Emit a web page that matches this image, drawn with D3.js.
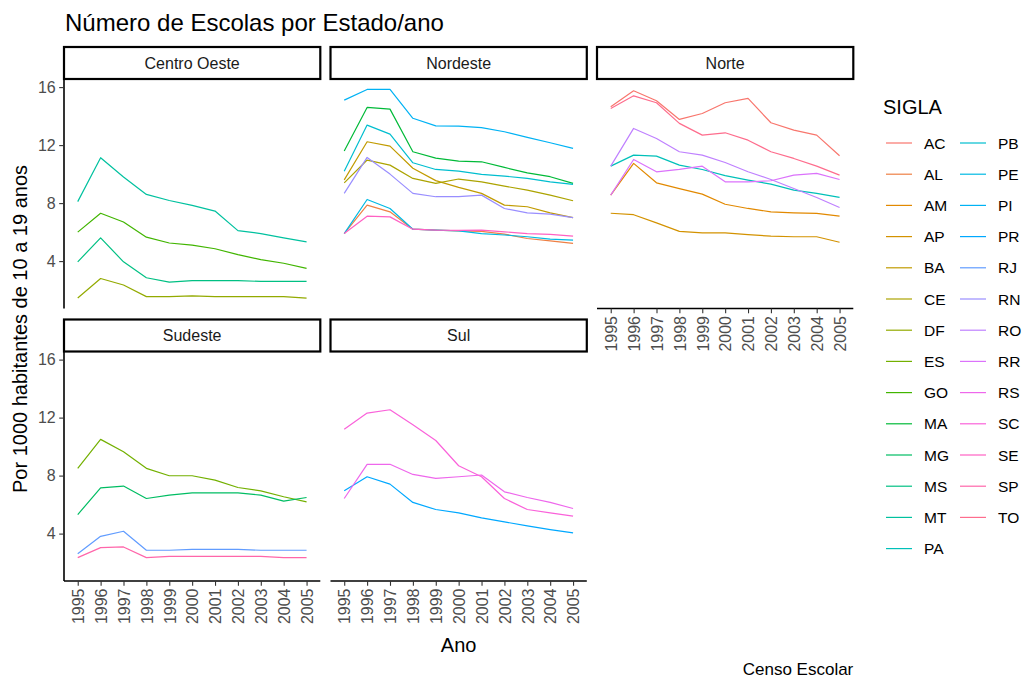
<!DOCTYPE html>
<html>
<head>
<meta charset="utf-8">
<script src="https://cdn.jsdelivr.net/npm/d3@7"></script>
<style>
  html, body { margin: 0; padding: 0; background: #ffffff; }
  svg { display: block; font-family: "Liberation Sans", Arial, sans-serif; }
</style>
</head>
<body>
<svg id="chart" width="1027" height="680"></svg>
<script>
// ---- data -------------------------------------------------------------
const years = ["1995","1996","1997","1998","1999","2000","2001","2002","2003","2004","2005"];
const regions = ["Centro Oeste", "Nordeste", "Norte", "Sudeste", "Sul"];
const siglas = ["AC","AL","AM","AP","BA","CE","DF","ES","GO","MA","MG","MS","MT","PA",
                "PB","PE","PI","PR","RJ","RN","RO","RR","RS","SC","SE","SP","TO"];
const siglaRegion = ["Norte","Nordeste","Norte","Norte","Nordeste","Nordeste","Centro Oeste","Sudeste",
                     "Centro Oeste","Nordeste","Sudeste","Centro Oeste","Centro Oeste","Norte",
                     "Nordeste","Nordeste","Nordeste","Sul","Sudeste","Nordeste","Norte","Norte",
                     "Sul","Sul","Nordeste","Sudeste","Norte"];
const yTicks = [4, 8, 12, 16];

// schools per 1000 inhabitants aged 10-19, 1995..2005
const valAC = [14.64, 15.75, 15.06, 13.77, 14.18, 14.92, 15.22, 13.54, 13.03, 12.69, 11.27];
const valAL = [5.90, 7.86, 7.40, 6.20, 6.14, 6.09, 6.05, 5.86, 5.56, 5.40, 5.22];
const valAM = [8.55, 10.74, 9.40, 9.00, 8.62, 7.92, 7.63, 7.40, 7.33, 7.29, 7.10];
const valAP = [7.30, 7.20, 6.64, 6.05, 5.95, 5.95, 5.82, 5.72, 5.68, 5.68, 5.30];
const valBA = [9.60, 12.23, 11.93, 10.40, 9.55, 9.08, 8.67, 7.86, 7.75, 7.33, 7.00];
const valCE = [9.40, 10.97, 10.62, 9.70, 9.36, 9.66, 9.47, 9.17, 8.90, 8.55, 8.16];
const valDF = [1.45, 2.80, 2.35, 1.55, 1.55, 1.60, 1.55, 1.55, 1.55, 1.55, 1.45];
const valES = [8.50, 10.50, 9.65, 8.50, 7.99, 7.99, 7.69, 7.18, 6.95, 6.54, 6.19];
const valGO = [6.00, 7.30, 6.70, 5.65, 5.25, 5.10, 4.85, 4.45, 4.10, 3.85, 3.50];
const valMA = [11.60, 14.60, 14.48, 11.54, 11.10, 10.90, 10.85, 10.46, 10.09, 9.82, 9.36];
const valMG = [5.31, 7.16, 7.28, 6.42, 6.65, 6.81, 6.81, 6.81, 6.65, 6.24, 6.49];
const valMS = [3.95, 5.60, 3.95, 2.85, 2.55, 2.65, 2.65, 2.65, 2.60, 2.60, 2.60];
const valMT = [8.10, 11.13, 9.80, 8.60, 8.18, 7.84, 7.45, 6.10, 5.90, 5.60, 5.33];
const valPA = [10.55, 11.31, 11.24, 10.62, 10.32, 9.90, 9.59, 9.31, 8.90, 8.67, 8.39];
const valPB = [10.20, 13.38, 12.76, 10.78, 10.32, 10.20, 9.98, 9.86, 9.70, 9.47, 9.29];
const valPE = [5.90, 8.25, 7.63, 6.20, 6.14, 6.09, 5.90, 5.80, 5.68, 5.52, 5.45];
const valPI = [15.10, 15.84, 15.84, 13.85, 13.33, 13.31, 13.20, 12.92, 12.53, 12.16, 11.77];
const valPR = [6.95, 7.92, 7.41, 6.15, 5.66, 5.43, 5.08, 4.81, 4.53, 4.28, 4.05];
const valRJ = [2.61, 3.81, 4.16, 2.85, 2.85, 2.91, 2.91, 2.91, 2.85, 2.85, 2.85];
const valRN = [8.67, 11.15, 10.00, 8.67, 8.44, 8.44, 8.55, 7.63, 7.33, 7.24, 7.00];
const valRO = [10.55, 13.15, 12.46, 11.54, 11.31, 10.80, 10.16, 9.63, 9.01, 8.39, 7.70];
const valRR = [8.55, 11.01, 10.16, 10.32, 10.55, 9.47, 9.47, 9.54, 9.93, 10.05, 9.63];
const valRS = [6.42, 8.78, 8.78, 8.08, 7.81, 7.92, 8.04, 6.88, 6.49, 6.15, 5.73];
const valSC = [11.20, 12.31, 12.54, 11.50, 10.42, 8.68, 7.92, 6.42, 5.66, 5.43, 5.20];
const valSE = [5.90, 7.10, 7.05, 6.20, 6.14, 6.12, 6.14, 6.02, 5.90, 5.84, 5.72];
const valSP = [2.34, 3.03, 3.08, 2.34, 2.43, 2.43, 2.43, 2.43, 2.43, 2.34, 2.34];
const valTO = [14.53, 15.40, 14.92, 13.50, 12.69, 12.85, 12.34, 11.54, 11.08, 10.55, 9.93];

const seriesValues = [valAC, valAL, valAM, valAP, valBA, valCE, valDF, valES, valGO, valMA, valMG,
                      valMS, valMT, valPA, valPB, valPE, valPI, valPR, valRJ, valRN, valRO, valRR,
                      valRS, valSC, valSE, valSP, valTO];

const series = siglas.map((s, i) => ({
  sigla: s,
  region: siglaRegion[i],
  values: years.map((y, j) => ({ year: y, value: seriesValues[i][j] }))
}));

// ---- colours: evenly spaced hues in polar CIE-Luv (c = 100, l = 65) -----
function hclLuv(h, c, l) {
  const Wu = 0.1978398, Wv = 0.4683363;
  const hr = h * Math.PI / 180;
  const U = c * Math.cos(hr), V = c * Math.sin(hr);
  const Y = l > 7.999592 ? Math.pow((l + 16) / 116, 3) : l / 903.3;
  const u = U / (13 * l) + Wu, v = V / (13 * l) + Wv;
  const X = 9 * Y * u / (4 * v);
  const Z = -X / 3 - 5 * Y + 3 * Y / v;
  const g = t => t > 0.00304 ? 1.055 * Math.pow(t, 1 / 2.4) - 0.055 : 12.92 * t;
  const cl = t => Math.max(0, Math.min(1, t));
  const r = cl(g(3.240479 * X - 1.537150 * Y - 0.498535 * Z));
  const gg = cl(g(-0.969256 * X + 1.875992 * Y + 0.041556 * Z));
  const b = cl(g(0.055648 * X - 0.204043 * Y + 1.057311 * Z));
  return d3.rgb(r * 255, gg * 255, b * 255).formatHex();
}
const palette = siglas.map((s, i) => hclLuv((15 + 360 * i / siglas.length) % 360, 100, 65));
const color = d3.scaleOrdinal().domain(siglas).range(palette);

// ---- layout -----------------------------------------------------------
const svg = d3.select("#chart");
const FONT_TICK = 16, FONT_STRIP = 16, FONT_LEGEND = 15.5, FONT_AXTITLE = 20;
const panelLeft = 64, panelW = 256.3, panelGapX = 10.2;
const stripH = 32, panelH = 229.5;
const rowTop = [47, 319.5];              // strip top per row
const ncol = 3;

const allVals = seriesValues.flat();
const [vmin, vmax] = d3.extent(allVals);
const pad = (vmax - vmin) * 0.05;

const x = d3.scalePoint().domain(years).range([0, panelW]).padding(0.6);
const y = d3.scaleLinear().domain([vmin - pad, vmax + pad]).range([panelH, 0]);

const line = d3.line().x(d => x(d.year)).y(d => y(d.value));

regions.forEach((reg, idx) => {
  const col = idx % ncol, row = Math.floor(idx / ncol);
  const px = panelLeft + col * (panelW + panelGapX);
  const sy = rowTop[row];
  const py = sy + stripH;

  // strip
  const strip = svg.append("g").attr("transform", `translate(${px},${sy})`);
  strip.append("rect")
    .attr("x", 0).attr("y", 0).attr("width", panelW).attr("height", stripH)
    .attr("fill", "#ffffff").attr("stroke", "#000000").attr("stroke-width", 2.2);
  strip.append("text")
    .attr("x", panelW / 2).attr("y", stripH / 2).attr("dy", "0.36em")
    .attr("text-anchor", "middle").attr("font-size", FONT_STRIP).attr("fill", "#1a1a1a")
    .text(reg);

  const g = svg.append("g").attr("transform", `translate(${px},${py})`);

  // lines
  g.selectAll("path.serie")
    .data(series.filter(s => s.region === reg))
    .join("path")
    .attr("class", "serie")
    .attr("fill", "none")
    .attr("stroke", d => color(d.sigla))
    .attr("stroke-width", 1.2)
    .attr("stroke-linejoin", "round")
    .attr("d", d => line(d.values));

  // y axis on the first column
  if (col === 0) {
    const ya = g.append("g")
      .call(d3.axisLeft(y).tickValues(yTicks).tickSize(4.8).tickPadding(3.5).tickFormat(d3.format("d")));
    ya.select(".domain").attr("stroke", "#000").attr("stroke-width", 1.6)
      .attr("d", `M0,${panelH}V0`);
    ya.selectAll(".tick line").attr("stroke", "#333333").attr("stroke-width", 1.1);
    ya.selectAll(".tick text").attr("font-size", FONT_TICK).attr("fill", "#4d4d4d")
      .attr("font-family", "Liberation Sans, Arial, sans-serif");
  }

  // x axis at the bottom of each column
  const isBottom = (idx + ncol >= regions.length);
  if (isBottom) {
    const xa = g.append("g").attr("transform", `translate(0,${panelH})`)
      .call(d3.axisBottom(x).tickSize(4.8).tickPadding(0));
    xa.select(".domain").attr("stroke", "#000").attr("stroke-width", 1.6)
      .attr("d", `M0,0H${panelW}`);
    xa.selectAll(".tick line").attr("stroke", "#333333").attr("stroke-width", 1.1);
    xa.selectAll(".tick text")
      .attr("font-size", FONT_TICK).attr("fill", "#4d4d4d")
      .attr("font-family", "Liberation Sans, Arial, sans-serif")
      .attr("text-anchor", "end")
      .attr("transform", "translate(0,7.5) rotate(-90)")
      .attr("x", 0).attr("y", 0).attr("dy", "0.36em");
  }
});

// ---- titles -----------------------------------------------------------
svg.append("text")
  .attr("x", 65).attr("y", 31)
  .attr("font-size", 24).attr("fill", "#000")
  .text("Número de Escolas por Estado/ano");

const panelsRight = panelLeft + ncol * panelW + (ncol - 1) * panelGapX;

svg.append("text")
  .attr("x", (panelLeft + panelsRight) / 2).attr("y", 652)
  .attr("text-anchor", "middle").attr("font-size", FONT_AXTITLE).attr("fill", "#000")
  .text("Ano");

svg.append("text")
  .attr("transform", "translate(27,329) rotate(-90)")
  .attr("text-anchor", "middle").attr("font-size", FONT_AXTITLE).attr("fill", "#000")
  .text("Por 1000 habitantes de 10 a 19 anos");

svg.append("text")
  .attr("x", panelsRight).attr("y", 675)
  .attr("text-anchor", "end").attr("font-size", 17).attr("fill", "#000")
  .text("Censo Escolar");

// ---- legend -----------------------------------------------------------
const legend = svg.append("g").attr("transform", "translate(883,0)");
legend.append("text")
  .attr("x", 0).attr("y", 114)
  .attr("font-size", FONT_AXTITLE).attr("fill", "#000")
  .text("SIGLA");

const legRows = Math.ceil(siglas.length / 2);
const keyStep = 31.2, keyY0 = 143;
const colX = [0, 74];
siglas.forEach((s, i) => {
  const c = Math.floor(i / legRows), r = i % legRows;
  const ky = keyY0 + r * keyStep;
  const item = legend.append("g").attr("transform", `translate(${colX[c]},${ky})`);
  item.append("line")
    .attr("x1", 3).attr("x2", 29).attr("y1", 0).attr("y2", 0)
    .attr("stroke", color(s)).attr("stroke-width", 1.2);
  item.append("text")
    .attr("x", 41).attr("y", 0).attr("dy", "0.36em")
    .attr("font-size", FONT_LEGEND).attr("fill", "#000")
    .text(s);
});
</script>
</body>
</html>
